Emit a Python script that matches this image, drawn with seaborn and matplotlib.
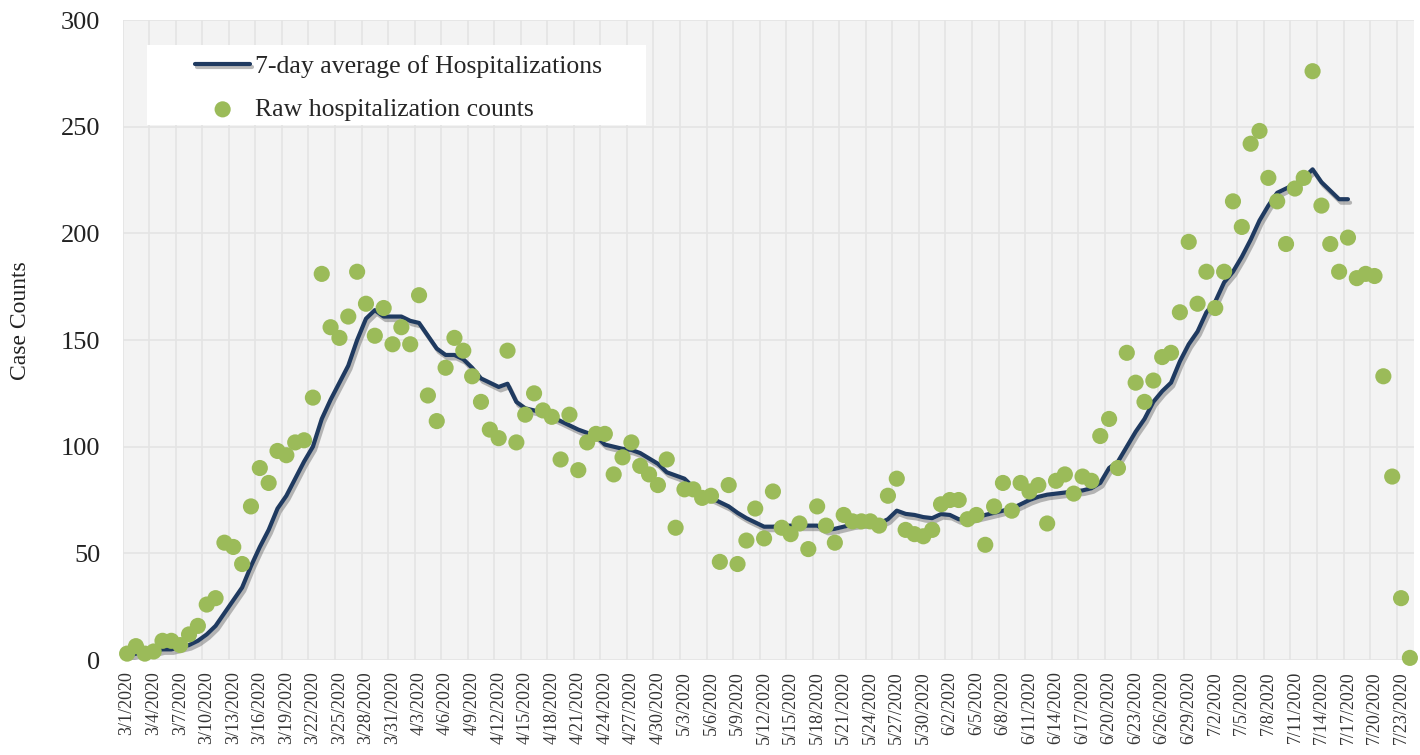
"""
Hospitalizations chart: raw daily counts with a 7-day average line.
"""
import pandas as pd
import numpy as np
import matplotlib.pyplot as plt
import matplotlib.patheffects as pe
from matplotlib.patches import Rectangle
import seaborn as sns

# Raw daily hospitalization counts, 3/1/2020 to 7/24/2020
raw_counts = [
    3, 6.5, 3, 4, 9, 9, 7, 12, 16, 26,
    29, 55, 53, 45, 72, 90, 83, 98, 96, 102,
    103, 123, 181, 156, 151, 161, 182, 167, 152, 165,
    148, 156, 148, 171, 124, 112, 137, 151, 145, 133,
    121, 108, 104, 145, 102, 115, 125, 117, 114, 94,
    115, 89, 102, 106, 106, 87, 95, 102, 91, 87,
    82, 94, 62, 80, 80, 76, 77, 46, 82, 45,
    56, 71, 57, 79, 62, 59, 64, 52, 72, 63,
    55, 68, 65, 65, 65, 63, 77, 85, 61, 59,
    58, 61, 73, 75, 75, 66, 68, 54, 72, 83,
    70, 83, 79, 82, 64, 84, 87, 78, 86, 84,
    105, 113, 90, 144, 130, 121, 131, 142, 144, 163,
    196, 167, 182, 165, 182, 215, 203, 242, 248, 226,
    215, 195, 221, 226, 276, 213, 195, 182, 198, 179,
    181, 180, 133, 86, 29, 1,
]

# 7-day average line, 3/1/2020 to 7/17/2020
avg_7day = [
    2, 3, 3, 4, 5, 5, 6, 7, 9, 12,
    16, 22, 28, 34, 44, 53, 61, 71, 77, 85,
    93, 100, 113, 122, 130, 138, 150, 160, 164, 161,
    161, 161, 159, 158, 152, 146, 143, 143, 141, 137,
    132, 130, 128, 129.5, 121, 118, 117, 116, 114, 112,
    110, 108, 106.5, 105, 101, 100, 99, 98.5, 97, 94.5,
    92, 88, 86.5, 85, 81, 78, 76, 74, 72, 69,
    66.5, 64.5, 62.5, 62.5, 62.8, 63, 63, 63, 63, 61,
    61.5, 62.5, 63.5, 64, 64, 64, 66, 70, 68.5, 68,
    67, 66.5, 68.4, 68, 66, 66, 67, 68, 69, 70,
    71, 73, 75, 76.5, 77.5, 78, 78.5, 79, 79.5, 80.5,
    83, 90, 93, 100, 107, 113, 121, 126, 130, 140,
    148, 154, 163, 168, 177, 182, 189, 197, 206, 213,
    219, 221, 223, 226, 230, 224, 220, 216, 216,
]

dates = pd.date_range('2020-03-01', periods=len(raw_counts), freq='D')
date_labels = [f"{d.month}/{d.day}/{d.year}" for d in dates]

df_raw = pd.DataFrame({'day': np.arange(len(raw_counts)), 'count': raw_counts})
df_avg = pd.DataFrame({'day': np.arange(len(avg_7day)), 'avg': avg_7day})

navy = '#1f3a60'
green = '#9bbb59'

sns.set_theme(style='white')
plt.rcParams['font.family'] = ['Liberation Serif', 'DejaVu Serif']

fig = plt.figure(figsize=(14.2, 7.55), dpi=100)
ax = fig.add_axes([0.0864, 0.1258, 0.9096, 0.8477])
ax.set_facecolor('#f3f3f3')

sns.lineplot(data=df_avg, x='day', y='avg', ax=ax, color=navy, linewidth=3.0,
             label='7-day average of Hospitalizations', zorder=3,
             path_effects=[pe.SimpleLineShadow(offset=(1.5, -2.5), shadow_color='#555555', alpha=0.4),
                           pe.Normal()])
sns.scatterplot(data=df_raw, x='day', y='count', ax=ax, color=green, s=135,
                edgecolor='none', label='Raw hospitalization counts', zorder=4,
                clip_on=False)

n = len(raw_counts)
ax.set_xlim(-0.5, n - 0.5)
ax.set_ylim(0, 300)
ax.set_yticks(range(0, 301, 50))
ax.set_yticklabels([str(v) for v in range(0, 301, 50)], fontsize=19, color='#222222')

tick_pos = list(range(0, n, 3))
ax.set_xticks(tick_pos)
ax.set_xticklabels([date_labels[i] for i in tick_pos], rotation=90, fontsize=13, color='#333333')
ax.set_xticks(np.arange(-0.5, n, 3), minor=True)
ax.tick_params(axis='both', which='both', length=0)
ax.tick_params(axis='y', pad=16)
ax.tick_params(axis='x', pad=8)

ax.grid(axis='y', which='major', color='#e4e4e4', linewidth=1.2)
ax.grid(axis='x', which='minor', color='#e4e4e4', linewidth=1.2)
ax.grid(axis='x', which='major', visible=False)
ax.set_axisbelow(True)
for s in ax.spines.values():
    s.set_visible(False)

ax.set_xlabel('')
ax.set_ylabel('Case Counts', fontsize=17, color='#222222')
ax.yaxis.set_label_coords(-0.071, 0.53)

# white legend panel with wide side padding
ax.add_patch(Rectangle((0.0186, 0.836), 0.3865, 0.125, transform=ax.transAxes,
                       facecolor='white', edgecolor='none', zorder=5))
leg = ax.legend(loc='upper left', bbox_to_anchor=(0.056, 0.946), fontsize=18.5,
                frameon=False, handlelength=2.15, handletextpad=0.2,
                borderpad=0, labelspacing=0.8, borderaxespad=0)
leg.set_zorder(6)

fig.savefig('out.png', dpi=100)
